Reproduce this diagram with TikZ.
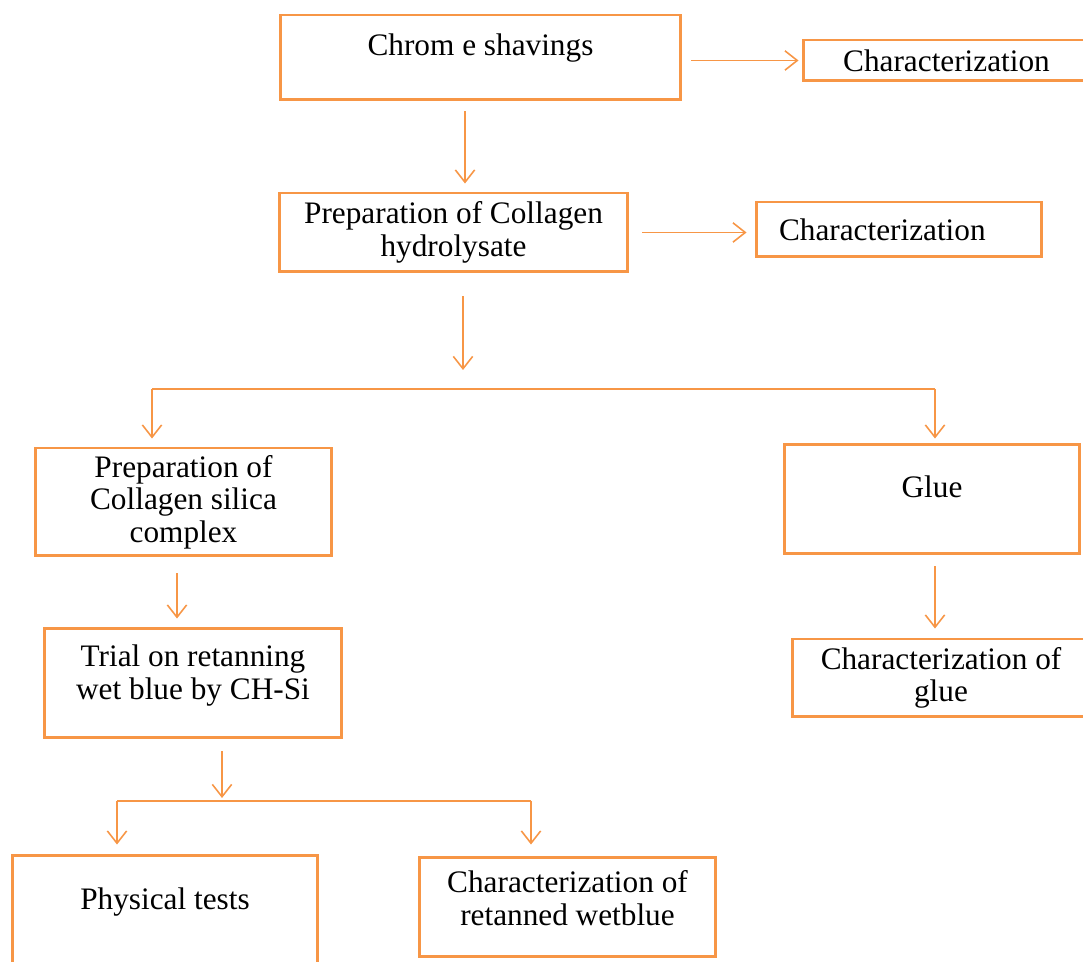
\documentclass[tikz,border=0pt]{standalone}
\usepackage{fontspec}
\setmainfont{Liberation Serif}
\usetikzlibrary{arrows.meta, calc, positioning}
\definecolor{flowOrange}{RGB}{247,150,70}

\begin{document}
\begin{tikzpicture}[x=0.02cm, y=-0.02cm, >={Straight Barb[length=7pt, width=11pt]},
    box/.style={draw=flowOrange, line width=1.7pt, rectangle, align=center, inner sep=2pt,
        font=\fontsize{17.8}{18.4}\selectfont},
    link/.style={draw=flowOrange, line width=0.9pt},
    arr/.style={link, ->}]
    \useasboundingbox (0,0) rectangle (1083,962);

    % boxes
    \node[box, minimum width=8.02cm, minimum height=1.7cm, text height=12pt, text depth=14.8pt] (chrome) at (480.5,57.5) {Chrom e shavings};
    \node[box, minimum width=5.74cm, minimum height=0.82cm] (char1) at (946.5,60.5) {Characterization};
    \node[box, minimum width=6.98cm, minimum height=1.58cm] (hydro) at (453.5,232.5) {Preparation of Collagen\\hydrolysate};
    \node[box, align=left, text width=4.8cm, inner xsep=0.46cm, minimum height=1.1cm] (char2) at (899,229.5) {Characterization};
    \node[box, minimum width=5.94cm, minimum height=2.16cm] (silica) at (183.5,502) {Preparation of\\Collagen silica\\complex};
    \node[box, minimum width=5.92cm, minimum height=2.2cm, text height=12pt, text depth=14.2pt] (glue) at (932,499) {Glue};
    \node[box, minimum width=5.96cm, minimum height=1.56cm] (chglue) at (941,678) {Characterization of\\glue};
    \node[box, minimum width=5.96cm, minimum height=2.2cm] (trial) at (193,683) {Trial on retanning\\wet blue by CH-Si\\[-6pt]\mbox{}};
    \node[box, minimum width=6.12cm, minimum height=2.4cm, text height=12pt, text depth=18.8pt] (phys) at (165,915) {Physical tests};
    \node[box, minimum width=5.94cm, minimum height=2cm] (chret) at (567.5,907) {Characterization of\\retanned wetblue\\[-8pt]\mbox{}};

    % fork points
    \coordinate (forkTop) at (463,389);
    \coordinate (forkL) at (152,389);
    \coordinate (forkR) at (935,389);
    \coordinate (fork2) at (222,801);
    \coordinate (fork2L) at (117,801);
    \coordinate (fork2R) at (531,801);

    % arrows
    \draw[arr, shorten <=0.18cm, shorten >=0.06cm] (chrome.east |- char1.west) -- (char1.west);
    \draw[arr, shorten <=0.2cm, shorten >=0.16cm] ([xshift=-0.31cm]chrome.south) -- ([xshift=-0.31cm]chrome.south |- hydro.north);
    \draw[arr, shorten <=0.26cm, shorten >=0.16cm] (hydro.east) -- (hydro.east -| char2.west);
    \draw[arr, shorten <=0.46cm, shorten >=0.38cm] (hydro.south -| forkTop) -- (forkTop);
    \draw[link] (forkL) -- (forkR);
    \draw[arr, shorten >=0.16cm] (forkL) -- (forkL |- silica.north);
    \draw[arr, shorten >=0.08cm] (forkR) -- (forkR |- glue.north);
    \draw[arr, shorten <=0.22cm, shorten >=0.18cm] (glue.south -| forkR) -- (chglue.north -| forkR);
    \draw[arr, shorten <=0.32cm, shorten >=0.16cm] ([xshift=-0.13cm]silica.south) -- ([xshift=-0.13cm]silica.south |- trial.north);
    \draw[arr, shorten <=0.24cm, shorten >=0.06cm] (trial.south -| fork2) -- (fork2);
    \draw[link] (fork2L) -- (fork2R);
    \draw[arr, shorten >=0.18cm] (fork2L) -- (fork2L |- phys.north);
    \draw[arr, shorten >=0.22cm] (fork2R) -- (fork2R |- chret.north);
\end{tikzpicture}
\end{document}
